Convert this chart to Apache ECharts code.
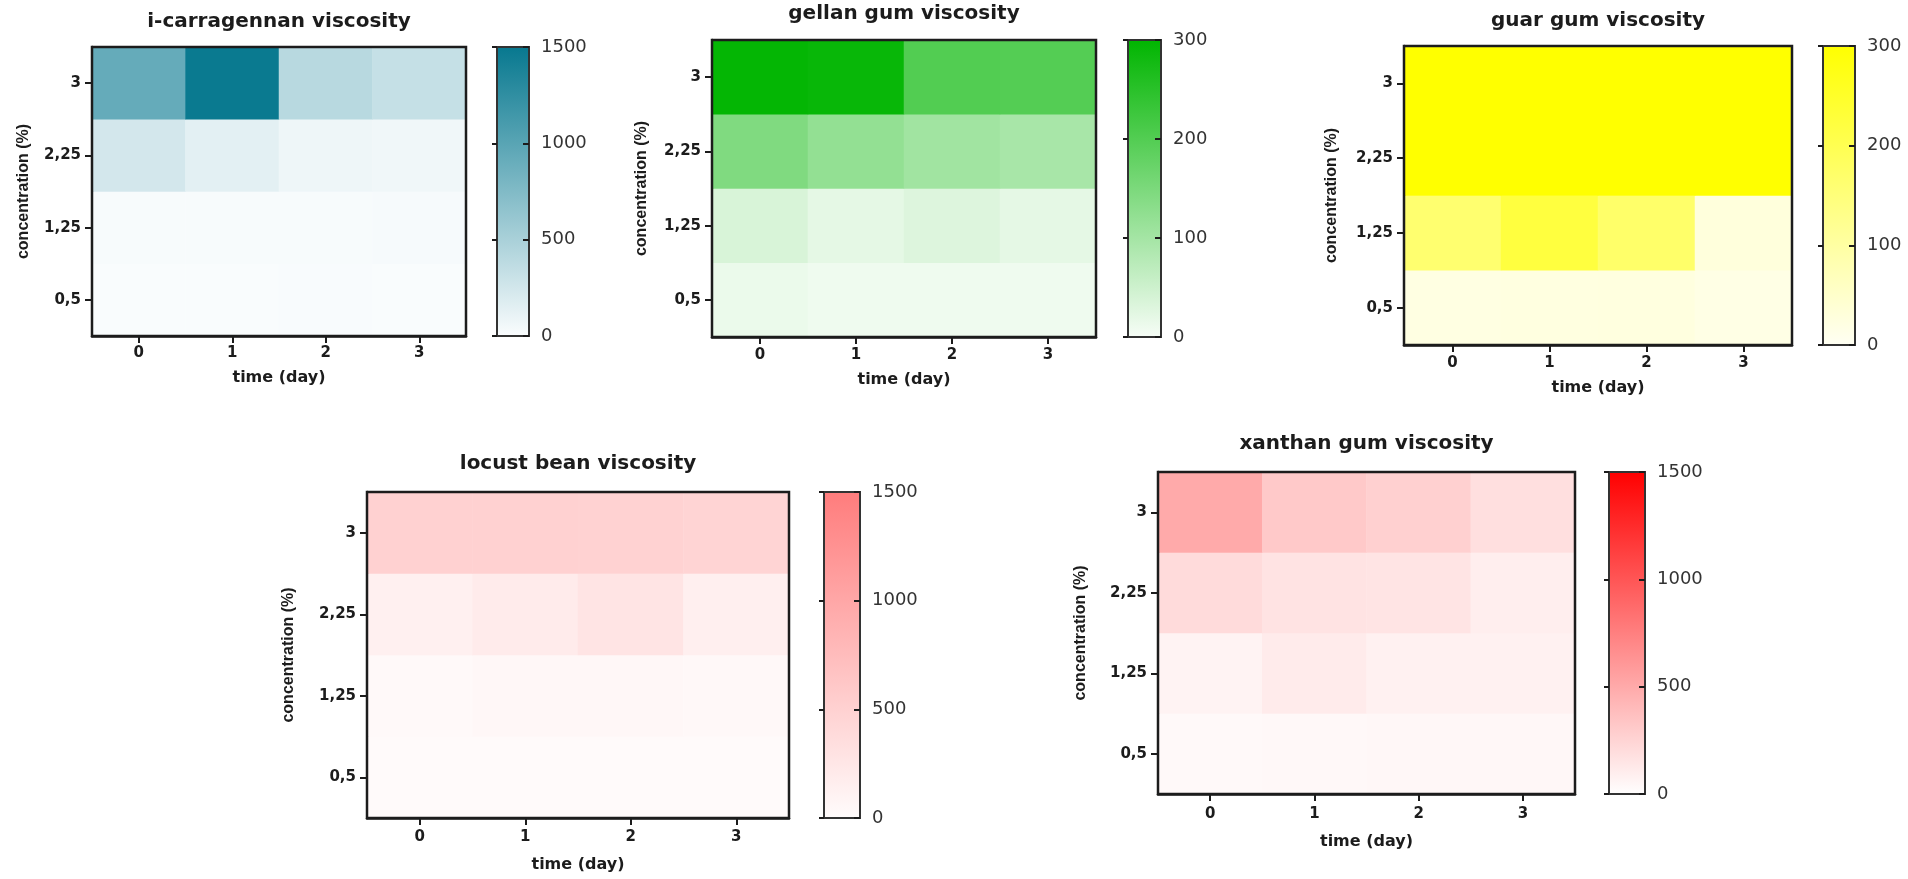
<!DOCTYPE html>
<html>
<head>
<meta charset="utf-8">
<title>viscosity heatmaps</title>
<script src="https://cdn.jsdelivr.net/npm/echarts@6/dist/echarts.min.js"></script>
<style>
  html, body { margin: 0; padding: 0; background: #fff; }
  #chart { width: 1908px; height: 879px; }
</style>
</head>
<body>
<div id="chart"></div>
<script>
// categories
const days = ['0', '1', '2', '3'];
const concentrations = ['0,5', '1,25', '2,25', '3'];
const titles = [
  'i-carragennan viscosity',
  'gellan gum viscosity',
  'guar gum viscosity',
  'locust bean viscosity',
  'xanthan gum viscosity'
];

// viscosity values, one row per concentration (0,5 -> 3), columns = day 0..3
const carrageenanVisc = [
  [15, 15, 18, 15],
  [25, 25, 25, 30],
  [245, 150, 80, 70],
  [920, 1480, 410, 330]
];
const gellanVisc = [
  [14, 10, 10, 10],
  [38, 22, 32, 22],
  [145, 122, 104, 96],
  [295, 290, 200, 198]
];
const guarVisc = [
  [22, 24, 26, 18],
  [163, 222, 171, 30],
  [305, 310, 300, 302],
  [340, 335, 330, 320]
];
const locustVisc = [
  [20, 20, 22, 18],
  [40, 60, 55, 50],
  [137, 195, 286, 150],
  [505, 500, 490, 465]
];
const xanthanVisc = [
  [35, 40, 45, 48],
  [70, 120, 85, 80],
  [212, 165, 160, 100],
  [500, 318, 276, 188]
];
const allVisc = [carrageenanVisc, gellanVisc, guarVisc, locustVisc, xanthanVisc];

// colour scale ticks
const scaleMax = [1500, 300, 300, 1500, 1500];
const scaleStep = [500, 100, 100, 500, 500];

// styling / layout (pixels)
const palette = [
  ['#fbfdfe', '#07788f'],
  ['#f7fdf7', '#00b500'],
  ['#fffff4', '#ffff00'],
  ['#fffcfc', '#ff7c7c'],
  ['#ffffff', '#ff0000']
];
const layout = [
  { box: [92, 47, 374, 289], bar: [497, 47, 32, 289], titleY: 12, lblGap: 10, nameX: 34, nameY: 60 },
  { box: [712, 40, 384, 297], bar: [1128, 40, 33, 297], titleY: 4, lblGap: 11, nameX: 35, nameY: 62 },
  { box: [1404, 46, 388, 299], bar: [1823, 46, 32, 299], titleY: 11, lblGap: 11, nameX: 35, nameY: 64 },
  { box: [367, 492, 422, 326], bar: [824, 492, 36, 326], titleY: 454, lblGap: 12, nameX: 39, nameY: 70 },
  { box: [1158, 472, 417, 322], bar: [1609, 472, 36, 322], titleY: 434, lblGap: 13, nameX: 40, nameY: 69 }
];

const ink = '#1c1c1c';
const wideFont = 'DejaVu Sans';

const option = {
  animation: false,
  backgroundColor: '#fff',
  title: [], grid: [], xAxis: [], yAxis: [], visualMap: [], series: []
};

layout.forEach(function (p, i) {
  const b = p.box, c = p.bar;
  option.title.push({
    text: titles[i],
    left: b[0] + b[2] / 2,
    top: p.titleY,
    textAlign: 'center',
    padding: 0,
    textStyle: { fontFamily: wideFont, fontWeight: 'bold', fontSize: 20, color: ink }
  });
  // heatmap grid, border drawn over the cells
  option.grid.push({
    left: b[0], top: b[1], width: b[2], height: b[3],
    show: true, z: 5, backgroundColor: 'transparent',
    borderColor: ink, borderWidth: 2.5
  });
  // colour bar grid
  option.grid.push({
    left: c[0], top: c[1], width: c[2], height: c[3],
    show: true,
    backgroundColor: {
      type: 'linear', x: 0, y: 0, x2: 0, y2: 1,
      colorStops: [{ offset: 0, color: palette[i][1] }, { offset: 1, color: palette[i][0] }]
    },
    borderColor: '#333', borderWidth: 2
  });

  option.xAxis.push({
    gridIndex: 2 * i, type: 'category', data: days,
    name: 'time (day)', nameLocation: 'middle', nameGap: p.nameX,
    nameTextStyle: { fontFamily: wideFont, fontWeight: 'bold', fontSize: 16, color: ink },
    axisLine: { show: true, lineStyle: { color: ink, width: 2.5 } },
    axisTick: { show: true, alignWithLabel: true, length: 7, lineStyle: { color: ink, width: 2 } },
    axisLabel: { margin: p.lblGap, fontFamily: wideFont, fontWeight: 'bold', fontSize: 15, color: ink },
    splitLine: { show: false }
  });
  option.xAxis.push({ gridIndex: 2 * i + 1, type: 'value', show: false, min: 0, max: 1 });

  option.yAxis.push({
    gridIndex: 2 * i, type: 'category', data: concentrations,
    name: 'concentration (%)', nameLocation: 'middle', nameGap: p.nameY,
    nameTextStyle: { fontFamily: 'Liberation Sans', fontWeight: 'bold', fontSize: 16, color: ink },
    axisLine: { show: true, lineStyle: { color: ink, width: 2.5 } },
    axisTick: { show: true, alignWithLabel: true, length: 7, lineStyle: { color: ink, width: 2 } },
    axisLabel: { margin: 11, fontFamily: wideFont, fontWeight: 'bold', fontSize: 15, color: ink },
    splitLine: { show: false }
  });
  option.yAxis.push({
    gridIndex: 2 * i + 1, type: 'value', position: 'right', z: 10,
    min: 0, max: scaleMax[i], interval: scaleStep[i],
    axisLine: { show: false, onZero: false }, splitLine: { show: false },
    axisTick: { show: true, inside: true, length: 6, lineStyle: { color: ink, width: 2 } },
    axisLabel: {
      margin: 12, fontFamily: wideFont, fontSize: 18, color: '#333',
      formatter: function (v) { return String(v); }
    }
  });
  option.yAxis.push({
    gridIndex: 2 * i + 1, type: 'value', position: 'left', z: 10,
    min: 0, max: scaleMax[i], interval: scaleStep[i],
    axisLine: { show: false, onZero: false }, splitLine: { show: false },
    axisTick: { show: true, inside: false, length: 5, lineStyle: { color: ink, width: 2 } },
    axisLabel: { show: false }
  });

  option.visualMap.push({
    type: 'continuous', show: false, seriesIndex: i,
    min: 0, max: scaleMax[i],
    inRange: { color: [palette[i][0], palette[i][1]] }
  });

  const cells = [];
  allVisc[i].forEach(function (row, r) {
    row.forEach(function (v, d) { cells.push([d, r, v]); });
  });
  option.series.push({
    type: 'heatmap', name: titles[i],
    xAxisIndex: 2 * i, yAxisIndex: 3 * i,
    data: cells,
    itemStyle: { borderWidth: 0 },
    emphasis: { disabled: true }
  });
});

const chart = echarts.init(document.getElementById('chart'));
chart.setOption(option);
</script>
</body>
</html>
